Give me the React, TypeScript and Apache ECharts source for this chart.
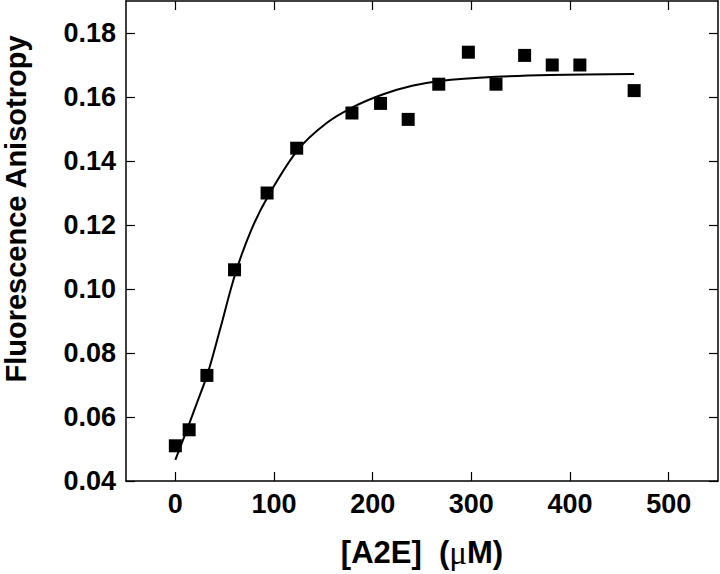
import React, { useEffect, useRef } from "react";
import * as echarts from "echarts";

const concX: number[] = [0, 14, 32, 60, 93, 123, 179, 208, 236, 267, 297, 325, 354, 382, 410, 465];
const anisotropyY: number[] = [0.051, 0.056, 0.073, 0.106, 0.130, 0.144, 0.155, 0.158, 0.153, 0.164, 0.174, 0.164, 0.173, 0.170, 0.170, 0.162];

const fitX: number[] = [0, 12, 22, 33, 45, 61, 77, 94, 124, 153, 181, 210, 240, 268, 325, 380, 465];
const fitY: number[] = [0.0466, 0.0562, 0.0645, 0.0738, 0.087, 0.105, 0.1185, 0.129, 0.1434, 0.1518, 0.157, 0.1608, 0.1635, 0.165, 0.1663, 0.1669, 0.1672];

const xTicks: number[] = [0, 100, 200, 300, 400, 500];
const yTicks: number[] = [0.04, 0.06, 0.08, 0.1, 0.12, 0.14, 0.16, 0.18];

const FONT = 'Arial, "Liberation Sans", sans-serif';

export default function App() {
  const ref = useRef<HTMLDivElement>(null);
  useEffect(() => {
    if (!ref.current) return;
    const chart = echarts.init(ref.current, null, { renderer: "svg" });
    const axisLine = { show: true, onZero: false, lineStyle: { color: "#000", width: 1.5 } };
    const tickStyle = { color: "#000", width: 1.2 };
    const xTick = { show: true, inside: true, length: 9, customValues: xTicks, lineStyle: tickStyle };
    const yTick = { show: true, inside: true, length: 9, customValues: yTicks, lineStyle: tickStyle };
    chart.setOption({
      animation: false,
      backgroundColor: "#fff",
      grid: { left: 126, right: 2, top: 1, bottom: 93, containLabel: false, outerBoundsMode: "none" },
      graphic: [
        {
          type: "text",
          x: 16,
          y: 209,
          rotation: Math.PI / 2,
          style: {
            text: "Fluorescence Anisotropy",
            font: 'bold 29px Arial, "Liberation Sans", sans-serif',
            fill: "#000",
            align: "center",
            verticalAlign: "middle",
          },
        },
      ],
      xAxis: [
        {
          type: "value",
          min: -50,
          max: 550,
          interval: 50,
          position: "bottom",
          axisLine,
          axisTick: xTick,
          splitLine: { show: false },
          axisLabel: {
            margin: 9,
            customValues: xTicks,
            fontFamily: FONT,
            fontWeight: "bold",
            fontSize: 27,
            color: "#000",
            formatter: (v: number) => String(v),
          },
          name: "[A2E]  ({mu|μ}M)",
          nameLocation: "middle",
          nameGap: 55,
          nameTextStyle: {
            fontFamily: FONT,
            fontWeight: "bold",
            fontSize: 31,
            color: "#000",
            verticalAlign: "top",
            rich: {
              mu: { fontFamily: '"Liberation Serif", serif', fontWeight: "normal", fontSize: 33, color: "#000" },
            },
          },
        },
        {
          type: "value",
          min: -50,
          max: 550,
          interval: 50,
          position: "top",
          axisLine,
          axisTick: xTick,
          axisLabel: { show: false },
          splitLine: { show: false },
        },
      ],
      yAxis: [
        {
          type: "value",
          min: 0.04,
          max: 0.19,
          interval: 0.01,
          position: "left",
          axisLine,
          axisTick: yTick,
          splitLine: { show: false },
          axisLabel: {
            margin: 10,
            customValues: yTicks,
            fontFamily: FONT,
            fontWeight: "bold",
            fontSize: 27,
            color: "#000",
            formatter: (v: number) => v.toFixed(2),
          },
        },
        {
          type: "value",
          min: 0.04,
          max: 0.19,
          interval: 0.01,
          position: "right",
          axisLine,
          axisTick: yTick,
          axisLabel: { show: false },
          splitLine: { show: false },
        },
      ],
      series: [
        {
          type: "line",
          data: fitX.map((x, i) => [x, fitY[i]]),
          smooth: 0.35,
          showSymbol: false,
          symbol: "none",
          lineStyle: { color: "#000", width: 2 },
          z: 2,
        },
        {
          type: "scatter",
          data: concX.map((x, i) => [x, anisotropyY[i]]),
          symbol: "rect",
          symbolSize: 13,
          itemStyle: { color: "#000", opacity: 1 },
          z: 3,
        },
      ],
    });
    return () => chart.dispose();
  }, []);
  return <div ref={ref} style={{ width: 720, height: 574, position: "absolute", left: 0, top: 0 }} />;
}
